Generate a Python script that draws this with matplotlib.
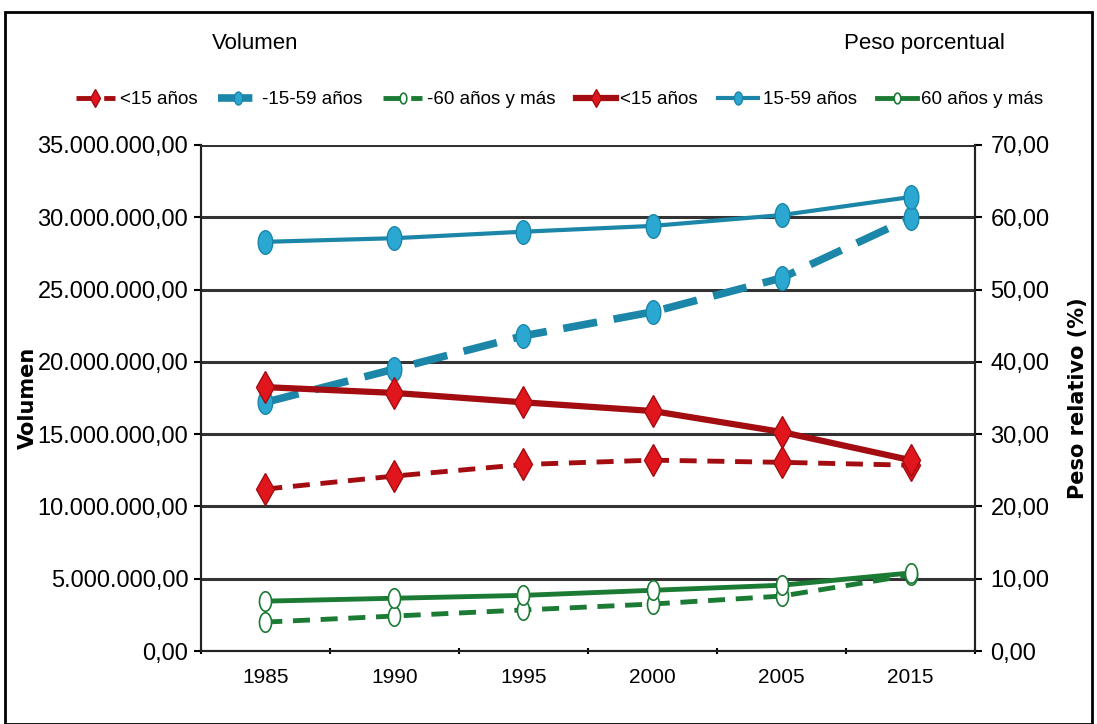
import numpy as np
import matplotlib.pyplot as plt
import matplotlib.patches as mpatches
from matplotlib.ticker import FuncFormatter

years = ["1985", "1990", "1995", "2000", "2005", "2015"]

# volumen (eje izquierdo, lineas discontinuas)
vol_menor15 = [11.2e6, 12.1e6, 12.9e6, 13.2e6, 13.05e6, 12.85e6]
vol_15_59 = [17.2e6, 19.5e6, 21.8e6, 23.45e6, 25.8e6, 29.95e6]
vol_60mas = [2.0e6, 2.42e6, 2.84e6, 3.25e6, 3.8e6, 5.25e6]

# peso porcentual (eje derecho, lineas continuas)
pct_menor15 = [36.5, 35.7, 34.4, 33.2, 30.3, 26.4]
pct_15_59 = [56.6, 57.1, 58.0, 58.8, 60.3, 62.8]
pct_60mas = [6.9, 7.3, 7.7, 8.4, 9.1, 10.8]

plt.rcParams['font.family'] = ["Liberation Sans", "DejaVu Sans"]

red_line, red_mk = "#a30d12", "#e0161c"
blue_line, blue_mk = "#1b86a8", "#2aa8d2"
green_line = "#1b7a33"

# marcador eliptico (circulo alargado como en el original)
t = np.linspace(0, 2 * np.pi, 40)
ellipse = list(zip(0.62 * np.cos(t), np.sin(t)))


def fmt_es(v, pos):
    s = f"{v:,.2f}"
    return s.replace(",", "X").replace(".", ",").replace("X", ".")


fig = plt.figure(figsize=(10.97, 7.24), dpi=100)
ax = fig.add_axes([0.183, 0.1008, 0.706, 0.699])
ax2 = ax.twinx()

x = [i + 0.5 for i in range(len(years))]

l1, = ax.plot(x, vol_menor15, ls=(0, (3.5, 2.2)), lw=3.5, color=red_line, marker="d",
              ms=16, mfc=red_mk, mec=red_line, mew=1, label="<15 años")
l2, = ax.plot(x, vol_15_59, ls=(0, (4.5, 2.2)), lw=5.5, color=blue_line, marker=ellipse,
              ms=17, mfc=blue_mk, mec=blue_line, mew=1, label="-15-59 años")
l3, = ax.plot(x, vol_60mas, ls=(0, (3.5, 2.2)), lw=3.5, color=green_line, marker=ellipse,
              ms=14, mfc="white", mec=green_line, mew=1.2, label="-60 años y más")

l4, = ax2.plot(x, pct_menor15, ls="-", lw=4.5, color=red_line, marker="d",
               ms=16, mfc=red_mk, mec=red_line, mew=1, label="<15 años")
l5, = ax2.plot(x, pct_15_59, ls="-", lw=3, color=blue_line, marker=ellipse,
               ms=17, mfc=blue_mk, mec=blue_line, mew=1, label="15-59 años")
l6, = ax2.plot(x, pct_60mas, ls="-", lw=3.5, color=green_line, marker=ellipse,
               ms=14, mfc="white", mec=green_line, mew=1.2, label="60 años y más")

ax.set_xlim(0, 6)
ax.set_ylim(0, 35e6)
ax2.set_ylim(0, 70)
ax.set_yticks([i * 5e6 for i in range(8)])
ax2.set_yticks([i * 10 for i in range(8)])
ax.yaxis.set_major_formatter(FuncFormatter(fmt_es))
ax2.yaxis.set_major_formatter(FuncFormatter(fmt_es))
ax.set_xticks(range(7))
ax.set_xticklabels([])
ax.set_xticks(x, minor=True)
ax.set_xticklabels(years, minor=True)
ax.tick_params(axis="x", which="minor", length=0, labelsize=15, pad=12)
ax.tick_params(axis="x", which="major", length=5, width=1.5, direction="inout")
ax.tick_params(axis="y", labelsize=17, length=5, width=1.5, pad=4)
ax2.tick_params(axis="y", labelsize=17, length=5, width=1.5, pad=6)

ax.grid(axis="y", color="#333333", lw=2.2)
ax.set_axisbelow(True)
for a in (ax, ax2):
    a.spines["top"].set_visible(False)
    for s in ("left", "right", "bottom"):
        a.spines[s].set_linewidth(1.5)
        a.spines[s].set_color("#222222")

ax.set_ylabel("Volumen", fontsize=15, fontweight="bold", family="DejaVu Sans")
ax.yaxis.set_label_coords(-0.21, 0.5)
ax2.set_ylabel("Peso relativo (%)", fontsize=15, fontweight="bold", family="DejaVu Sans")
ax2.yaxis.set_label_coords(1.12, 0.5)

fig.text(0.233, 0.94, "Volumen", fontsize=16, ha="center", va="center")
fig.text(0.843, 0.94, "Peso porcentual", fontsize=16, ha="center", va="center")

fig.legend(handles=[l1, l2, l3, l4, l5, l6], loc="center", ncol=6,
           bbox_to_anchor=(0.51, 0.862), frameon=False, fontsize=13.5,
           handlelength=2.1, handletextpad=0.25, columnspacing=1.1, markerscale=0.55)

fig.patches.append(mpatches.Rectangle((0.005, 0.0), 0.99, 0.983, transform=fig.transFigure,
                                      fill=False, lw=2, color="black"))

fig.savefig("out.png", dpi=100)
